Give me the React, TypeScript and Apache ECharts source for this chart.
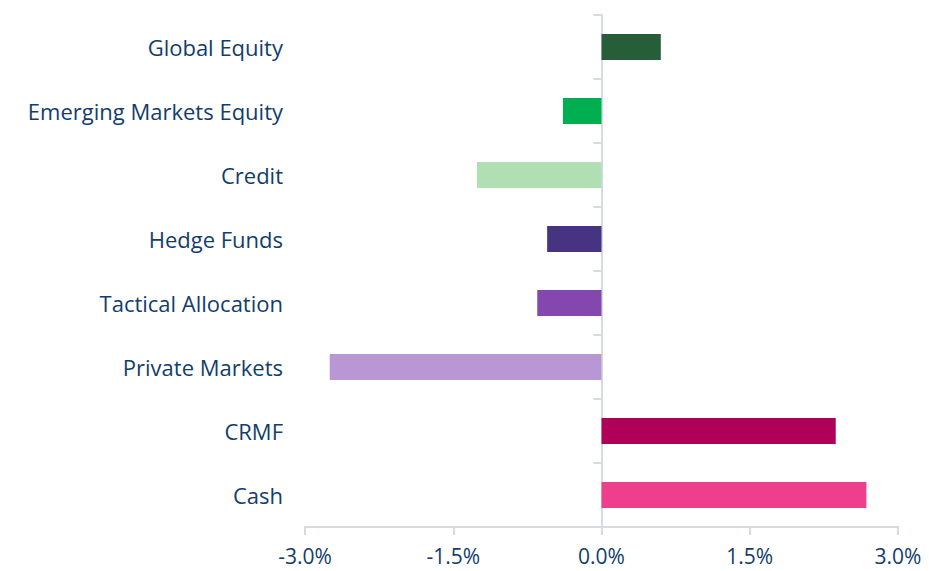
import React, { useEffect, useRef } from "react";
import * as echarts from "echarts";

const categories = [
  "Global Equity",
  "Emerging Markets Equity",
  "Credit",
  "Hedge Funds",
  "Tactical Allocation",
  "Private Markets",
  "CRMF",
  "Cash",
];
const values = [0.6, -0.39, -1.26, -0.55, -0.65, -2.75, 2.37, 2.68];
const colors = [
  "#265E3A",
  "#00B050",
  "#B0DFB4",
  "#463382",
  "#8447AD",
  "#B897D4",
  "#B00058",
  "#EF3E8C",
];

const textColor = "#123D6C";
const axisColor = "#D6DAE1";

export default function App() {
  const ref = useRef<HTMLDivElement>(null);
  useEffect(() => {
    const chart = echarts.init(ref.current!, null, { renderer: "svg" });
    chart.setOption({
      animation: false,
      backgroundColor: "#ffffff",
      grid: {
        left: 305,
        right: 31,
        top: 15,
        bottom: 44,
        containLabel: false,
        outerBoundsMode: "none",
      },
      xAxis: {
        type: "value",
        min: -3,
        max: 3,
        interval: 1.5,
        splitLine: { show: false },
        axisLine: { show: true, lineStyle: { color: axisColor, width: 2 } },
        axisTick: { show: true, length: 8, lineStyle: { color: axisColor, width: 2 } },
        axisLabel: {
          color: textColor,
          fontSize: 21,
          lineHeight: 18,
          fontFamily: "Open Sans",
          margin: 20,
          formatter: (v: number) => v.toFixed(1) + "%",
        },
      },
      yAxis: {
        type: "category",
        inverse: true,
        data: categories,
        axisLine: { show: true, onZero: true, lineStyle: { color: axisColor, width: 2 } },
        axisTick: { show: true, length: 8, lineStyle: { color: axisColor, width: 2 } },
        axisLabel: {
          color: textColor,
          fontSize: 22,
          fontFamily: "Open Sans",
          margin: 22,
        },
      },
      series: [
        {
          type: "bar",
          barWidth: 26,
          data: values.map((v, i) => ({ value: v, itemStyle: { color: colors[i] } })),
        },
      ],
    });
    return () => chart.dispose();
  }, []);
  return (
    <div
      ref={ref}
      style={{ position: "absolute", left: 0, top: 0, width: 929, height: 571 }}
    />
  );
}
